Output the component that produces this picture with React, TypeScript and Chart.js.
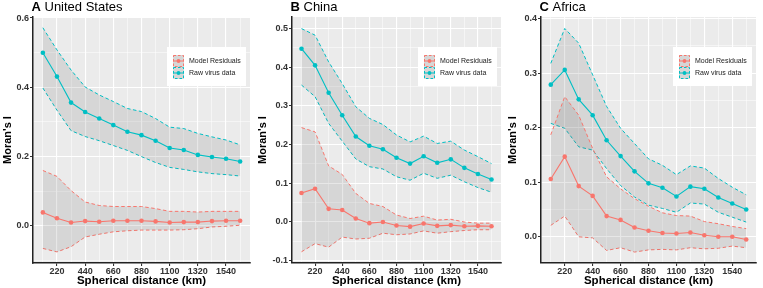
import React, { useEffect, useRef } from 'react';
import { Chart, registerables } from 'chart.js';

Chart.register(...registerables);
Chart.defaults.font.family = "'Liberation Sans', Arial, Helvetica, sans-serif";

// ---------- data ----------
const distances = [110, 220, 330, 440, 550, 660, 770, 880, 990, 1100, 1210, 1320, 1430, 1540, 1650];
const xMajorTicks = [220, 440, 660, 880, 1100, 1320, 1540];
const xMinorTicks = [110, 330, 550, 770, 990, 1210, 1430, 1650];
const seriesNames = ['Model Residuals', 'Raw virus data'];

// A United States
const usRaw = [0.500, 0.431, 0.356, 0.329, 0.310, 0.291, 0.272, 0.262, 0.246, 0.225, 0.219, 0.205, 0.199, 0.194, 0.186];
const usRawUpper = [0.572, 0.508, 0.450, 0.401, 0.378, 0.359, 0.339, 0.330, 0.310, 0.285, 0.281, 0.267, 0.257, 0.248, 0.234];
const usRawLower = [0.398, 0.334, 0.275, 0.258, 0.246, 0.232, 0.218, 0.200, 0.183, 0.169, 0.163, 0.156, 0.151, 0.148, 0.144];
const usRes = [0.039, 0.022, 0.010, 0.014, 0.012, 0.015, 0.015, 0.015, 0.013, 0.010, 0.011, 0.011, 0.014, 0.015, 0.015];
const usResUpper = [0.160, 0.143, 0.102, 0.069, 0.059, 0.056, 0.056, 0.056, 0.050, 0.042, 0.042, 0.040, 0.042, 0.042, 0.042];
const usResLower = [-0.065, -0.075, -0.060, -0.032, -0.024, -0.017, -0.014, -0.012, -0.012, -0.012, -0.011, -0.008, -0.003, -0.001, 0.002];
const usYMajor = [0, 0.2, 0.4, 0.6];
const usYMinor = [-0.1, 0.1, 0.3, 0.5];

// B China
const cnRaw = [0.448, 0.405, 0.334, 0.276, 0.221, 0.197, 0.188, 0.166, 0.151, 0.170, 0.153, 0.162, 0.140, 0.124, 0.110];
const cnRawUpper = [0.500, 0.483, 0.414, 0.358, 0.298, 0.268, 0.252, 0.225, 0.207, 0.222, 0.203, 0.209, 0.186, 0.169, 0.151];
const cnRawLower = [0.354, 0.324, 0.255, 0.209, 0.163, 0.143, 0.137, 0.117, 0.108, 0.126, 0.113, 0.121, 0.104, 0.089, 0.077];
const cnRes = [0.075, 0.086, 0.034, 0.031, 0.009, -0.003, 0.000, -0.009, -0.012, -0.004, -0.010, -0.008, -0.011, -0.010, -0.011];
const cnResUpper = [0.244, 0.233, 0.145, 0.123, 0.074, 0.048, 0.040, 0.018, 0.009, 0.015, 0.005, 0.007, 0.000, -0.003, -0.003];
const cnResLower = [-0.077, -0.056, -0.065, -0.039, -0.044, -0.042, -0.029, -0.033, -0.031, -0.023, -0.029, -0.025, -0.022, -0.020, -0.020];
const cnYMajor = [-0.1, 0, 0.1, 0.2, 0.3, 0.4, 0.5];
const cnYMinor = [-0.05, 0.05, 0.15, 0.25, 0.35, 0.45];

// C Africa
const afRaw = [0.279, 0.306, 0.252, 0.223, 0.177, 0.148, 0.120, 0.098, 0.090, 0.074, 0.092, 0.088, 0.072, 0.061, 0.050];
const afRawUpper = [0.318, 0.382, 0.355, 0.297, 0.239, 0.199, 0.171, 0.143, 0.131, 0.114, 0.130, 0.126, 0.107, 0.091, 0.077];
const afRawLower = [0.208, 0.199, 0.165, 0.159, 0.125, 0.094, 0.073, 0.058, 0.052, 0.045, 0.062, 0.060, 0.045, 0.036, 0.027];
const afRes = [0.106, 0.147, 0.093, 0.075, 0.038, 0.031, 0.017, 0.011, 0.007, 0.006, 0.008, 0.003, 0.000, 0.000, -0.005];
const afResUpper = [0.187, 0.257, 0.223, 0.162, 0.110, 0.088, 0.070, 0.056, 0.044, 0.039, 0.038, 0.028, 0.024, 0.019, 0.015];
const afResLower = [0.021, 0.038, 0.000, -0.002, -0.025, -0.020, -0.028, -0.024, -0.023, -0.024, -0.020, -0.022, -0.021, -0.017, -0.020];
const afYMajor = [0, 0.1, 0.2, 0.3, 0.4];
const afYMinor = [0.05, 0.15, 0.25, 0.35];

// ---------- styling ----------
const RED = '#F8766D';
const TEAL = '#00BFC4';
const BAND = 'rgba(110,110,110,0.17)';
const PANEL_BG = '#EBEBEB';
const H = 288;

type PanelCfg = {
  letter: string; name: string;
  raw: number[]; rawUpper: number[]; rawLower: number[];
  res: number[]; resUpper: number[]; resLower: number[];
  yMajor: number[]; yMinor: number[]; yMin: number; yMax: number;
  left: number; width: number; plotLeft: number; plotRight: number;
};

const panels: PanelCfg[] = [
  { letter: 'A', name: 'United States', raw: usRaw, rawUpper: usRawUpper, rawLower: usRawLower, res: usRes, resUpper: usResUpper, resLower: usResLower,
    yMajor: usYMajor, yMinor: usYMinor, yMin: -0.107, yMax: 0.603, left: 0, width: 255, plotLeft: 33, plotRight: 250 },
  { letter: 'B', name: 'China', raw: cnRaw, rawUpper: cnRawUpper, rawLower: cnRawLower, res: cnRes, resUpper: cnResUpper, resLower: cnResLower,
    yMajor: cnYMajor, yMinor: cnYMinor, yMin: -0.106, yMax: 0.530, left: 255, width: 250, plotLeft: 37, plotRight: 250 },
  { letter: 'C', name: 'Africa', raw: afRaw, rawUpper: afRawUpper, rawLower: afRawLower, res: afRes, resUpper: afResUpper, resLower: afResLower,
    yMajor: afYMajor, yMinor: afYMinor, yMin: -0.048, yMax: 0.403, left: 505, width: 258, plotLeft: 36, plotRight: 251 },
];

const has = (arr: number[], v: any) => typeof v === 'number' && arr.some((a) => Math.abs(a - v) < 1e-9);
const pts = (ys: number[]) => ys.map((y, i) => ({ x: distances[i], y }));

function PanelChart({ cfg }: { cfg: PanelCfg }) {
  const ref = useRef<HTMLCanvasElement | null>(null);
  useEffect(() => {
    if (!ref.current) return;
    const bgPlugin = {
      id: 'panelBg',
      beforeDraw(chart: any) {
        const { ctx, chartArea: a } = chart;
        ctx.save();
        ctx.fillStyle = PANEL_BG;
        ctx.fillRect(a.left, a.top, a.right - a.left, a.bottom - a.top);
        ctx.restore();
      },
    };
    const overlayPlugin = {
      id: 'overlay',
      afterDraw(chart: any) {
        const { ctx, chartArea: a } = chart;
        ctx.save();
        // panel title
        ctx.fillStyle = '#000';
        ctx.textBaseline = 'alphabetic';
        ctx.textAlign = 'left';
        const tx = a.left - 1.5;
        ctx.font = "bold 13px 'Liberation Sans', Arial, sans-serif";
        ctx.fillText(cfg.letter, tx, 10.5);
        const w = ctx.measureText(cfg.letter + ' ').width;
        ctx.font = "13px 'Liberation Sans', Arial, sans-serif";
        ctx.fillText(cfg.name, tx + w, 10.5);
        // legend
        const bw = 79, bh = 39;
        const bx = a.right - 4 - bw, by = a.top + 30;
        ctx.fillStyle = '#FFFFFF';
        ctx.fillRect(bx, by, bw, bh);
        const colors = [RED, TEAL];
        seriesNames.forEach((label, i) => {
          const kx = bx + 6, ky = by + 8 + i * 12, kw = 11, kh = 12;
          ctx.fillStyle = '#D6D6D6';
          ctx.fillRect(kx, ky, kw, kh);
          ctx.strokeStyle = colors[i];
          ctx.lineWidth = 1;
          ctx.setLineDash([2.5, 2]);
          ctx.strokeRect(kx + 0.5, ky + 0.5, kw - 1, kh - 1);
          ctx.setLineDash([]);
          ctx.beginPath();
          ctx.moveTo(kx, ky + kh / 2);
          ctx.lineTo(kx + kw, ky + kh / 2);
          ctx.stroke();
          ctx.fillStyle = colors[i];
          ctx.beginPath();
          ctx.arc(kx + kw / 2, ky + kh / 2, 1.9, 0, Math.PI * 2);
          ctx.fill();
          ctx.fillStyle = '#1a1a1a';
          ctx.font = "7px 'Liberation Sans', Arial, sans-serif";
          ctx.textBaseline = 'middle';
          ctx.fillText(label, bx + 22, ky + kh / 2 + 0.5);
        });
        ctx.restore();
      },
    };

    const band = (data: number[], color: string, fill: any) => ({
      data: pts(data), borderColor: color, borderWidth: 1, borderDash: [3.5, 2.5], pointRadius: 0,
      backgroundColor: BAND, fill, tension: 0, order: 2,
    });
    const line = (data: number[], color: string) => ({
      data: pts(data), borderColor: color, backgroundColor: color, borderWidth: 1.1, pointRadius: 2.3,
      pointBorderWidth: 0, pointBackgroundColor: color, fill: false, tension: 0, order: 1,
    });

    const chart = new Chart(ref.current, {
      type: 'line',
      data: {
        datasets: [
          band(cfg.resUpper, RED, '+1'),
          band(cfg.resLower, RED, false),
          band(cfg.rawUpper, TEAL, '+1'),
          band(cfg.rawLower, TEAL, false),
          line(cfg.res, RED),
          line(cfg.raw, TEAL),
        ] as any,
      },
      options: {
        animation: false,
        responsive: false,
        maintainAspectRatio: false,
        events: [],
        layout: { padding: { left: 0, right: cfg.width - cfg.plotRight, top: 17, bottom: 0 } },
        plugins: { legend: { display: false }, tooltip: { enabled: false }, title: { display: false } },
        scales: {
          x: {
            type: 'linear', min: 33, max: 1727,
            afterBuildTicks: (s: any) => {
              s.ticks = [...xMajorTicks, ...xMinorTicks].sort((a, b) => a - b)
                .filter((v) => v >= s.min && v <= s.max).map((v) => ({ value: v }));
            },
            afterFit: (s: any) => { s.height = H - 263; },
            ticks: {
              autoSkip: false, maxRotation: 0, minRotation: 0, padding: 0, color: '#333',
              font: { size: 9, weight: 'bold' },
              callback: (v: any) => (has(xMajorTicks, v) ? String(v) : ''),
            },
            grid: {
              color: '#FFFFFF',
              lineWidth: (c: any) => (has(xMajorTicks, c.tick?.value) ? 1.1 : 0.5),
              tickColor: (c: any) => (has(xMajorTicks, c.tick?.value) ? '#333' : 'rgba(0,0,0,0)'),
              tickLength: 3, drawTicks: true,
            },
            border: { display: true, color: '#222', width: 1.5 },
            title: {
              display: true, text: 'Spherical distance (km)', color: '#000',
              font: { size: 11.5, weight: 'bold' }, padding: { top: 0, bottom: 0 },
            },
          },
          y: {
            type: 'linear', min: cfg.yMin, max: cfg.yMax,
            afterBuildTicks: (s: any) => {
              s.ticks = [...cfg.yMajor, ...cfg.yMinor].sort((a, b) => a - b)
                .filter((v) => v >= s.min && v <= s.max).map((v) => ({ value: v }));
            },
            afterFit: (s: any) => { s.width = cfg.plotLeft; },
            ticks: {
              autoSkip: false, padding: 1, color: '#333',
              font: { size: 9, weight: 'bold' },
              callback: (v: any) => (has(cfg.yMajor, v) ? Number(v).toFixed(1) : ''),
            },
            grid: {
              color: '#FFFFFF',
              lineWidth: (c: any) => (has(cfg.yMajor, c.tick?.value) ? 1.1 : 0.5),
              tickColor: (c: any) => (has(cfg.yMajor, c.tick?.value) ? '#333' : 'rgba(0,0,0,0)'),
              tickLength: 3, drawTicks: true,
            },
            border: { display: true, color: '#222', width: 1.5 },
            title: {
              display: true, text: "Moran's I", color: '#000',
              font: { size: 11, weight: 'bold' }, padding: { top: 1, bottom: 0 },
            },
          },
        },
      } as any,
      plugins: [bgPlugin, overlayPlugin],
    });
    return () => chart.destroy();
  }, [cfg]);

  return (
    <canvas
      ref={ref}
      width={cfg.width}
      height={H}
      style={{ position: 'absolute', left: cfg.left, top: 0, width: cfg.width, height: H }}
    />
  );
}

export default function App() {
  useEffect(() => {
    document.body.style.margin = '0';
    document.body.style.background = '#FFFFFF';
  }, []);
  return (
    <div style={{ position: 'relative', width: 763, height: H, background: '#FFFFFF', overflow: 'hidden' }}>
      {panels.map((p) => (
        <PanelChart key={p.letter} cfg={p} />
      ))}
    </div>
  );
}
